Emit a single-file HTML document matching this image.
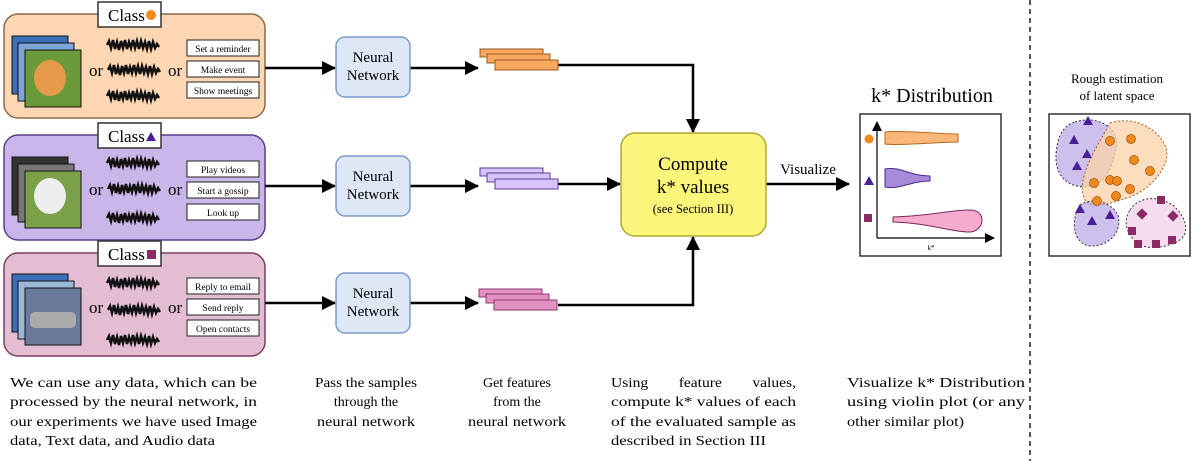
<!DOCTYPE html>
<html><head><meta charset="utf-8"><style>
html,body{margin:0;padding:0;background:#fff;}
svg{display:block;font-family:"Liberation Serif",serif;}
</style></head><body>
<svg width="1196" height="461" viewBox="0 0 1196 461" xmlns="http://www.w3.org/2000/svg">
<defs>
<marker id="ah" markerWidth="10" markerHeight="10" refX="9" refY="5" orient="auto" markerUnits="userSpaceOnUse"><path d="M0,0 L10,5 L0,10 z" fill="#000"/></marker>
<marker id="ah2" markerWidth="14" markerHeight="14" refX="13" refY="7" orient="auto" markerUnits="userSpaceOnUse"><path d="M0,0 L14,7 L0,14 z" fill="#000"/></marker>
<g id="wave">
<path d="M0,0 l2,-4 l2,7 l2,-8 l2,9 l2,-7 l2,8 l2,-9 l2,7 l2,-8 l2,9 l2,-7 l2,6 l2,-8 l2,8 l2,-7 l2,8 l2,-8 l2,7 l2,-6 l2,7 l2,-8 l2,8 l2,-7 l2,6 l2,-4 l2,3" stroke="#111" stroke-width="2.5" fill="none"/>
</g>
</defs>

<!-- Panel 1 -->
<rect x="4" y="14" width="261" height="104" rx="14" fill="#fdd7b3" stroke="#8c6a48" stroke-width="1.5"/>
<rect x="98" y="2" width="63" height="25" fill="#fff" stroke="#333" stroke-width="1.5"/>
<text x="108" y="21" font-size="17">Class</text>
<circle cx="151" cy="15" r="5" fill="#f08a1c"/>
<rect x="12" y="36" width="56" height="58" fill="#3a6fb8" stroke="#111"/>
<rect x="18" y="43" width="56" height="58" fill="#7ea4d8" stroke="#111"/>
<rect x="25" y="50" width="56" height="57" fill="#6b9a3a" stroke="#111"/>
<ellipse cx="50" cy="78" rx="16" ry="18" fill="#e79a4a"/>
<use href="#wave" x="107" y="45"/><use href="#wave" x="108" y="70"/><use href="#wave" x="107" y="96"/>
<text x="89" y="76" font-size="17">or</text><text x="168" y="76" font-size="17">or</text>
<rect x="187" y="40" width="72" height="16" fill="#fff" stroke="#222"/>
<text x="223" y="52" font-size="9.5" text-anchor="middle">Set a reminder</text>
<rect x="187" y="61" width="72" height="16" fill="#fff" stroke="#222"/>
<text x="223" y="73" font-size="9.5" text-anchor="middle">Make event</text>
<rect x="187" y="82" width="72" height="16" fill="#fff" stroke="#222"/>
<text x="223" y="94" font-size="9.5" text-anchor="middle">Show meetings</text>

<!-- Panel 2 -->
<rect x="4" y="135" width="261" height="105" rx="14" fill="#cbb6e9" stroke="#5a3d8c" stroke-width="1.5"/>
<rect x="98" y="123" width="63" height="25" fill="#fff" stroke="#333" stroke-width="1.5"/>
<text x="108" y="142" font-size="17">Class</text>
<path d="M146,141 L151,132 L156,141 z" fill="#4a1e96"/>
<rect x="12" y="157" width="56" height="58" fill="#333" stroke="#111"/>
<rect x="18" y="164" width="56" height="58" fill="#777" stroke="#111"/>
<rect x="25" y="171" width="56" height="57" fill="#7aa04a" stroke="#111"/>
<ellipse cx="50" cy="196" rx="16" ry="18" fill="#eee"/>
<use href="#wave" x="107" y="163"/><use href="#wave" x="108" y="189"/><use href="#wave" x="107" y="218"/>
<text x="89" y="195" font-size="17">or</text><text x="168" y="195" font-size="17">or</text>
<rect x="187" y="161" width="72" height="16" fill="#fff" stroke="#222"/>
<text x="223" y="173" font-size="9.5" text-anchor="middle">Play videos</text>
<rect x="187" y="182" width="72" height="16" fill="#fff" stroke="#222"/>
<text x="223" y="194" font-size="9.5" text-anchor="middle">Start a gossip</text>
<rect x="187" y="204" width="72" height="16" fill="#fff" stroke="#222"/>
<text x="223" y="216" font-size="9.5" text-anchor="middle">Look up</text>

<!-- Panel 3 -->
<rect x="4" y="253" width="261" height="103" rx="14" fill="#e3bdd2" stroke="#7a3d64" stroke-width="1.5"/>
<rect x="98" y="241" width="63" height="25" fill="#fff" stroke="#333" stroke-width="1.5"/>
<text x="108" y="260" font-size="17">Class</text>
<rect x="147" y="250" width="9" height="9" fill="#8c2a66"/>
<rect x="12" y="274" width="56" height="58" fill="#3a6fb8" stroke="#111"/>
<rect x="18" y="281" width="56" height="58" fill="#9ab8d8" stroke="#111"/>
<rect x="25" y="288" width="56" height="57" fill="#6a7a9a" stroke="#111"/>
<rect x="30" y="312" width="46" height="16" rx="5" fill="#aaa"/>
<use href="#wave" x="107" y="283"/><use href="#wave" x="108" y="310"/><use href="#wave" x="107" y="340"/>
<text x="89" y="313" font-size="17">or</text><text x="168" y="313" font-size="17">or</text>
<rect x="187" y="278" width="72" height="16" fill="#fff" stroke="#222"/>
<text x="223" y="290" font-size="9.5" text-anchor="middle">Reply to email</text>
<rect x="187" y="299" width="72" height="16" fill="#fff" stroke="#222"/>
<text x="223" y="311" font-size="9.5" text-anchor="middle">Send reply</text>
<rect x="187" y="320" width="72" height="16" fill="#fff" stroke="#222"/>
<text x="223" y="332" font-size="9.5" text-anchor="middle">Open contacts</text>

<!-- arrows -->
<g stroke="#000" stroke-width="2.5" fill="none">
<line x1="265" y1="68" x2="335" y2="68" marker-end="url(#ah2)"/>
<line x1="265" y1="186" x2="335" y2="186" marker-end="url(#ah2)"/>
<line x1="265" y1="303" x2="335" y2="303" marker-end="url(#ah2)"/>
<line x1="410" y1="68" x2="478" y2="68" marker-end="url(#ah2)"/>
<line x1="410" y1="186" x2="478" y2="186" marker-end="url(#ah2)"/>
<line x1="410" y1="303" x2="478" y2="303" marker-end="url(#ah2)"/>
<polyline points="558,65 693,65 693,132" marker-end="url(#ah2)"/>
<line x1="558" y1="184" x2="620" y2="184" marker-end="url(#ah2)"/>
<polyline points="558,305 693,305 693,237" marker-end="url(#ah2)"/>
<line x1="766" y1="184" x2="849" y2="184" marker-end="url(#ah2)"/>
</g>

<!-- NN boxes -->
<g fill="#dde7f6" stroke="#7b9ccc" stroke-width="1.5">
<rect x="336" y="37" width="74" height="60" rx="9"/>
<rect x="336" y="156" width="74" height="60" rx="9"/>
<rect x="336" y="273" width="74" height="60" rx="9"/>
</g>
<g font-size="15" text-anchor="middle">
<text x="373" y="62">Neural</text><text x="373" y="80">Network</text>
<text x="373" y="181">Neural</text><text x="373" y="199">Network</text>
<text x="373" y="298">Neural</text><text x="373" y="316">Network</text>
</g>

<!-- features -->
<g fill="#f8a860" stroke="#9a5a20">
<rect x="480" y="49" width="63" height="8"/><rect x="487" y="54" width="63" height="9"/><rect x="495" y="60" width="63" height="10"/>
</g>
<g fill="#d8c2fa" stroke="#5a3a9a">
<rect x="480" y="168" width="63" height="8"/><rect x="487" y="173" width="63" height="9"/><rect x="495" y="179" width="63" height="10"/>
</g>
<g fill="#e391c0" stroke="#8a3a6a">
<rect x="479" y="289" width="63" height="8"/><rect x="486" y="294" width="63" height="9"/><rect x="494" y="300" width="63" height="10"/>
</g>

<!-- compute -->
<rect x="621" y="133" width="145" height="103" rx="14" fill="#fbf57a" stroke="#b0a830" stroke-width="1.5"/>
<text x="693" y="170" font-size="19" text-anchor="middle">Compute</text>
<text x="693" y="193" font-size="19" text-anchor="middle">k* values</text>
<text x="693" y="213" font-size="12.5" text-anchor="middle">(see Section III)</text>
<text x="808" y="174" font-size="15" text-anchor="middle">Visualize</text>

<!-- k* distribution -->
<text x="932" y="102" font-size="20" text-anchor="middle">k* Distribution</text>
<rect x="860" y="114" width="141" height="142" fill="#fff" stroke="#333" stroke-width="1.5"/>
<g stroke="#000" stroke-width="1.2" fill="none">
<line x1="877" y1="238" x2="877" y2="122" marker-end="url(#ah)"/>
<line x1="877" y1="238" x2="994" y2="238" marker-end="url(#ah)"/>
</g>
<text x="931" y="250" font-size="7" text-anchor="middle">k*</text>
<circle cx="869" cy="139" r="4.5" fill="#f08a1c"/>
<path d="M864,185 L869,176 L874,185 z" fill="#4a1e96"/>
<rect x="864" y="214" width="8" height="8" fill="#8c2a66"/>
<path d="M885,132 C900,130 940,134 958,134 L958,142 C940,142 900,146 885,144 z" fill="#fbb77a" stroke="#b06a20"/>
<path d="M885,169 C900,166 910,176 930,176 L930,181 C910,181 900,190 885,187 z" fill="#a78ad8" stroke="#4a2a8a"/>
<path d="M893,217 C930,216 950,210 970,210 C987,210 985,231 970,232 C950,232 930,223 893,222 z" fill="#f5aad0" stroke="#7a2a5a"/>

<line x1="1030" y1="0" x2="1030" y2="461" stroke="#222" stroke-width="1.5" stroke-dasharray="5,4"/>

<!-- latent -->
<text x="1117" y="83" font-size="13" text-anchor="middle">Rough estimation</text>
<text x="1117" y="100" font-size="13" text-anchor="middle">of latent space</text>
<rect x="1049" y="114" width="141" height="142" fill="#fff" stroke="#333" stroke-width="1.5"/>
<g stroke="#333" stroke-dasharray="2,2" stroke-width="1">
<path d="M1075,122 C1100,114 1120,130 1116,148 C1112,168 1105,184 1090,186 C1065,190 1055,172 1056,155 C1057,138 1062,126 1075,122 z" fill="#b9a5e6" fill-opacity="0.7"/>
<path d="M1110,123 C1135,115 1160,130 1166,148 C1172,165 1150,190 1130,197 C1110,204 1090,210 1085,200 C1075,180 1095,150 1110,123 z" fill="#fbd3a8" fill-opacity="0.75" stroke="#a06020"/>
<path d="M1080,205 C1090,198 1110,200 1118,215 C1123,235 1105,247 1090,246 C1073,244 1070,220 1080,205 z" fill="#b9a5e6" fill-opacity="0.7"/>
<path d="M1130,210 C1140,195 1160,196 1174,206 C1190,222 1190,238 1172,244 C1155,250 1140,248 1134,240 C1125,230 1124,220 1130,210 z" fill="#f6dcef"/>
</g>
<g fill="#f08a1c" stroke="#a04a00" stroke-width="0.7">
<circle cx="1110" cy="141" r="4.5"/><circle cx="1131" cy="139" r="4.5"/><circle cx="1134" cy="160" r="4.5"/>
<circle cx="1150" cy="171" r="4.5"/><circle cx="1110" cy="180" r="4.5"/><circle cx="1130" cy="189" r="4.5"/>
<circle cx="1117" cy="181" r="4.5"/><circle cx="1094" cy="183" r="4.5"/><circle cx="1097" cy="201" r="4.5"/><circle cx="1116" cy="196" r="4.5"/>
</g>
<g fill="#4a1e96">
<path d="M1083,125 l5,-9 l5,9 z"/><path d="M1069,144 l5,-9 l5,9 z"/><path d="M1082,158 l5,-9 l5,9 z"/>
<path d="M1072,170 l5,-9 l5,9 z"/><path d="M1075,213 l5,-9 l5,9 z"/><path d="M1087,225 l5,-9 l5,9 z"/><path d="M1105,219 l5,-9 l5,9 z"/>
</g>
<g fill="#8c2a66">
<rect x="1157" y="196" width="8" height="8"/><rect x="1128" y="227" width="8" height="8"/><rect x="1134" y="240" width="8" height="8"/>
<rect x="1152" y="240" width="8" height="8"/><rect x="1168" y="236" width="8" height="8"/>
<rect x="1138" y="210" width="8" height="8" transform="rotate(45 1142 214)"/>
<rect x="1169" y="212" width="8" height="8" transform="rotate(45 1173 216)"/>
</g>

<!-- bottom texts -->
<g font-size="14">
<text x="10" y="387" textLength="247" lengthAdjust="spacingAndGlyphs">We can use any data, which can be</text>
<text x="10" y="406" textLength="247" lengthAdjust="spacingAndGlyphs">processed by the neural network, in</text>
<text x="10" y="426" textLength="247" lengthAdjust="spacingAndGlyphs">our experiments we have used Image</text>
<text x="10" y="445" textLength="205" lengthAdjust="spacingAndGlyphs">data, Text data, and Audio data</text>
<g text-anchor="middle">
<text x="366" y="387" textLength="102" lengthAdjust="spacingAndGlyphs">Pass the samples</text>
<text x="366" y="406">through the</text>
<text x="366" y="426" textLength="98" lengthAdjust="spacingAndGlyphs">neural network</text>
<text x="517" y="387">Get features</text>
<text x="517" y="406">from the</text>
<text x="517" y="426" textLength="98" lengthAdjust="spacingAndGlyphs">neural network</text>
</g>
<text x="611" y="387" textLength="185" lengthAdjust="spacingAndGlyphs" word-spacing="24">Using feature values,</text>
<text x="611" y="406" textLength="185" lengthAdjust="spacingAndGlyphs">compute k* values of each</text>
<text x="611" y="426" textLength="185" lengthAdjust="spacingAndGlyphs">of the evaluated sample as</text>
<text x="611" y="445" textLength="155" lengthAdjust="spacingAndGlyphs">described in Section III</text>
<text x="847" y="387" textLength="178" lengthAdjust="spacingAndGlyphs">Visualize  k*  Distribution</text>
<text x="847" y="406" textLength="178" lengthAdjust="spacingAndGlyphs">using  violin  plot  (or  any</text>
<text x="847" y="426" textLength="117" lengthAdjust="spacingAndGlyphs">other similar plot)</text>
</g>
</svg>
</body></html>
